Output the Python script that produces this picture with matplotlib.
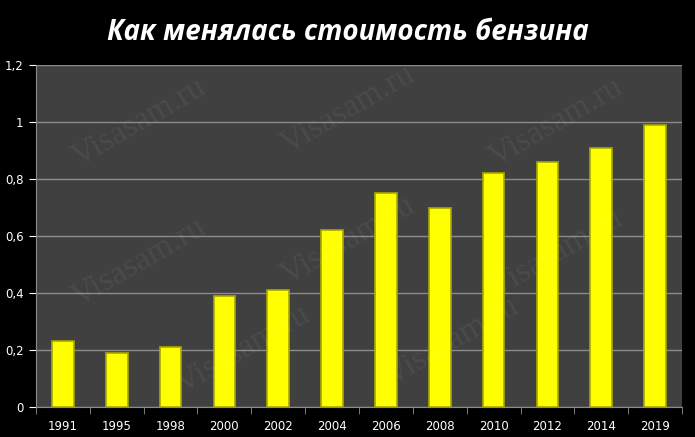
import numpy as np
import matplotlib.pyplot as plt

years = ['1991', '1995', '1998', '2000', '2002', '2004',
         '2006', '2008', '2010', '2012', '2014', '2019']
prices = [0.23, 0.19, 0.21, 0.39, 0.41, 0.62,
          0.75, 0.70, 0.82, 0.86, 0.91, 0.99]
y_ticks = [0, 0.2, 0.4, 0.6, 0.8, 1.0, 1.2]
y_labels = ['0', '0,2', '0,4', '0,6', '0,8', '1', '1,2']

fig = plt.figure(figsize=(6.95, 4.37), dpi=100, facecolor='black')
ax = fig.add_axes([36 / 695, 30 / 437, 646 / 695, 342 / 437])
ax.set_facecolor('#404040')

x = np.arange(len(years))
ax.bar(x, prices, width=0.4, color='#ffff00', edgecolor='#a8a800',
       linewidth=1.2, zorder=3)

ax.set_xlim(-0.5, len(years) - 0.5)
ax.set_ylim(0, 1.2)
ax.set_yticks(y_ticks)
ax.set_yticklabels(y_labels)
ax.yaxis.grid(True, color='#8c8c8c', linewidth=1)
ax.set_axisbelow(True)

ax.set_xticks(x)
ax.set_xticklabels(years)
ax.set_xticks(np.arange(len(years) + 1) - 0.5, minor=True)
ax.tick_params(axis='x', which='major', length=0, pad=9)
ax.tick_params(axis='x', which='minor', length=5, color='#8c8c8c')
ax.tick_params(axis='y', length=5, color='#8c8c8c', pad=4)
ax.tick_params(colors='white', labelsize=8.5)
for lbl in ax.get_xticklabels() + ax.get_yticklabels():
    lbl.set_color('white')

for side in ['top', 'right']:
    ax.spines[side].set_visible(False)
ax.spines['left'].set_color('#8c8c8c')
ax.spines['bottom'].set_color('#8c8c8c')

# faint watermark, kept inside the figure
for wx, wy in [(0.2, 0.72), (0.5, 0.75), (0.8, 0.72),
               (0.2, 0.4), (0.5, 0.45), (0.8, 0.42),
               (0.35, 0.2), (0.65, 0.22)]:
    fig.text(wx, wy, 'Visasam.ru', fontsize=24, family='Liberation Serif',
             color='white', alpha=0.06, rotation=30, ha='center', va='center')

fig.text(0.5, 0.925, 'Как менялась стоимость бензина', color='white',
         fontsize=20, fontweight='bold', fontstyle='italic',
         family='Open Sans', ha='center', va='center')

fig.savefig('out.png', dpi=100, facecolor='black')
